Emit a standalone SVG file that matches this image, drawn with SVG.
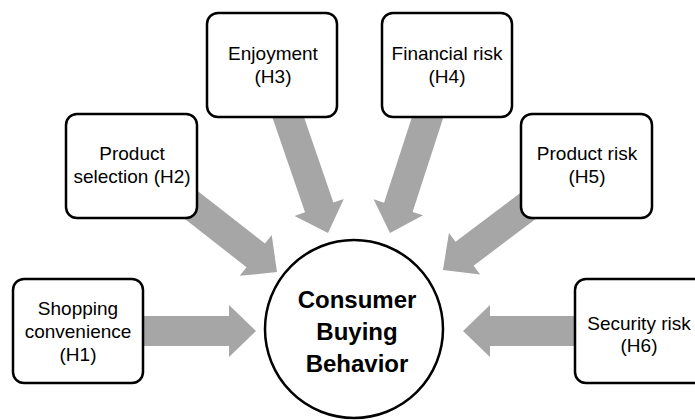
<svg xmlns="http://www.w3.org/2000/svg" width="695" height="420" viewBox="0 0 695 420">
<style>
.box{fill:#fff;stroke:#000;stroke-width:2.5}
.arr{fill:#a6a6a6}
.t{font-family:"Liberation Sans",Arial,sans-serif;font-size:19px;fill:#000;text-anchor:middle}
.c{font-family:"Liberation Sans",Arial,sans-serif;font-size:24px;font-weight:bold;fill:#000;text-anchor:middle}
</style>
<rect width="695" height="420" fill="#fff"/>
<g id="connectors">
<polygon class="arr" transform="translate(256,331)" points="-126,-15 -27,-15 -27,-26 0,0 -27,26 -27,15 -126,15"/>
<polygon class="arr" transform="translate(277,272) rotate(38)" points="-123,-15 -27,-15 -27,-26 0,0 -27,26 -27,15 -123,15"/>
<polygon class="arr" transform="translate(328,233) rotate(71)" points="-128,-15 -27,-15 -27,-26 0,0 -27,26 -27,15 -128,15"/>
<polygon class="arr" transform="translate(390,233) rotate(108)" points="-128,-15 -27,-15 -27,-26 0,0 -27,26 -27,15 -128,15"/>
<polygon class="arr" transform="translate(443,270) rotate(143)" points="-113,-15 -27,-15 -27,-26 0,0 -27,26 -27,15 -113,15"/>
<polygon class="arr" transform="translate(463,331) rotate(180)" points="-140,-15 -27,-15 -27,-26 0,0 -27,26 -27,15 -140,15"/>
</g>
<g id="h1">
<rect class="box" x="13" y="279" width="130" height="104" rx="11"/>
<text class="t" x="78" y="315">Shopping</text>
<text class="t" x="78" y="338">convenience</text>
<text class="t" x="78" y="361">(H1)</text>
</g>
<g id="h2">
<rect class="box" x="66" y="114" width="131" height="104" rx="11"/>
<text class="t" x="132" y="160">Product</text>
<text class="t" x="132" y="183">selection (H2)</text>
</g>
<g id="h3">
<rect class="box" x="207" y="13" width="130" height="104" rx="11"/>
<text class="t" x="273" y="60">Enjoyment</text>
<text class="t" x="273" y="83">(H3)</text>
</g>
<g id="h4">
<rect class="box" x="382" y="13" width="130" height="104" rx="11"/>
<text class="t" x="447" y="60">Financial risk</text>
<text class="t" x="447" y="83">(H4)</text>
</g>
<g id="h5">
<rect class="box" x="521" y="114" width="131" height="104" rx="11"/>
<text class="t" x="587" y="160">Product risk</text>
<text class="t" x="587" y="183">(H5)</text>
</g>
<g id="h6">
<rect class="box" x="575" y="279" width="135" height="104" rx="11"/>
<text class="t" x="639" y="330">Security risk</text>
<text class="t" x="639" y="352">(H6)</text>
</g>
<g id="center">
<circle class="box" cx="354" cy="329" r="89"/>
<text class="c" x="357" y="308">Consumer</text>
<text class="c" x="357" y="340">Buying</text>
<text class="c" x="357" y="372">Behavior</text>
</g>
</svg>
